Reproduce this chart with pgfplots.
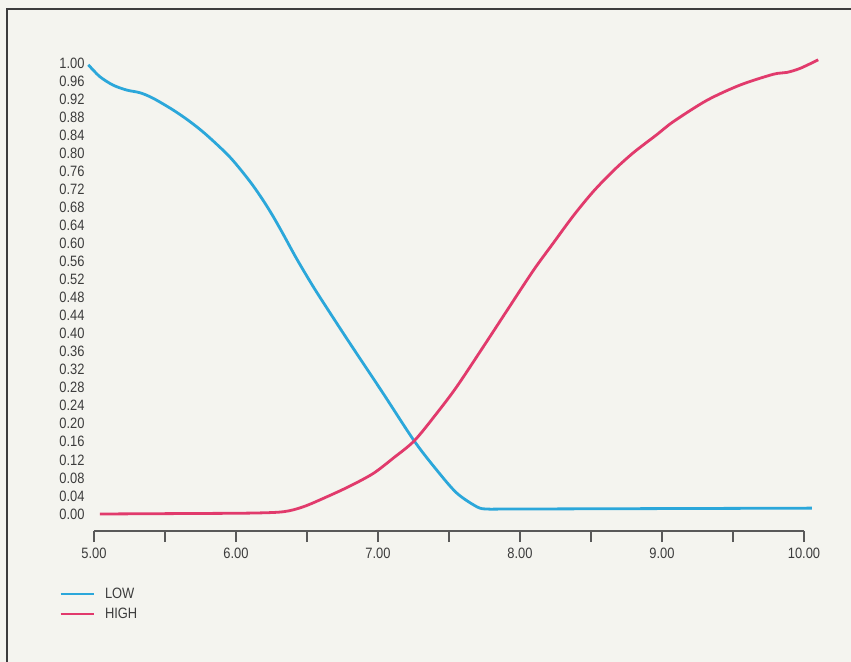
\documentclass[border=0pt]{standalone}
\usepackage{fontspec}
\setmainfont{Liberation Sans}[FakeStretch=0.86]
\usepackage{pgfplots}
\pgfplotsset{compat=1.18}
\definecolor{bg}{HTML}{F4F4EF}
\definecolor{lowc}{HTML}{2BA7DA}
\definecolor{highc}{HTML}{E13A6C}
\definecolor{ink}{HTML}{3C3C3C}
\begin{document}
\begin{tikzpicture}
\fill[bg] (0bp,0bp) rectangle (851bp,662bp);
\useasboundingbox (0bp,0bp) rectangle (851bp,662bp);
\draw[ink,line width=2.4bp] (7bp,-2bp) -- (7bp,653bp) -- (853bp,653bp);
\begin{axis}[
  at={(94bp,131bp)}, anchor=south west,
  x=142bp, y=451bp,
  xmin=5, xmax=10, ymin=-0.0377, ymax=1.03,
  clip=false,
  axis x line*=bottom,
  axis y line*=left,
  y axis line style={draw=none},
  x axis line style={ink!85, line width=1.1bp, -},
  xtick={5,6,7,8,9,10},
  minor xtick={5.5,6.5,7.5,8.5,9.5},
  tick align=outside,
  major tick length=11bp, minor tick length=11bp,
  xtick style={ink!85, line width=1.1bp},
  minor x tick style={ink!85, line width=1.1bp},
  ytick={0,0.04,0.08,0.12,0.16,0.20,0.24,0.28,0.32,0.36,0.40,0.44,0.48,0.52,0.56,0.60,0.64,0.68,0.72,0.76,0.80,0.84,0.88,0.92,0.96,1.00},
  ytick style={draw=none},
  /pgf/number format/assume math mode=true,
  /pgf/number format/fixed,
  /pgf/number format/fixed zerofill,
  /pgf/number format/precision=2,
  ticklabel style={font=\fontsize{15bp}{18bp}\selectfont, text=ink},
  yticklabel style={anchor=east, xshift=5bp},
  xticklabel style={yshift=-3bp},
  legend image code/.code={\draw[#1] (0bp,0bp) -- (33bp,0bp);},
  legend style={draw=none, fill=none, at={(axis description cs:-0.0535,-0.114)}, anchor=north west,
    font=\fontsize{15bp}{18bp}\selectfont, text=ink, row sep=8bp,
    nodes={inner sep=0pt}, column sep=10bp},
  legend cell align=left,
]
\addplot[lowc, line width=2.8bp, smooth] coordinates {
(4.96,0.996) (5.04,0.970) (5.134,0.951) (5.23,0.940) (5.324,0.934) (5.415,0.922)
(5.556,0.896) (5.676,0.870) (5.794,0.840) (5.958,0.791) (6.099,0.737) (6.192,0.695)
(6.263,0.659) (6.333,0.620) (6.427,0.566) (6.544,0.504) (6.662,0.446) (6.803,0.378)
(7.035,0.268) (7.254,0.1625) (7.413,0.0976) (7.554,0.0466) (7.695,0.0162)
(7.765,0.011) (7.93,0.011) (9.0,0.012) (10.056,0.013)
};
\addlegendentry{LOW}
\addplot[highc, line width=2.8bp, smooth] coordinates {
(5.042,0.0) (5.627,0.001) (6.099,0.002) (6.333,0.005) (6.474,0.016) (6.639,0.038)
(6.803,0.062) (6.967,0.090) (7.108,0.124) (7.256,0.1625) (7.413,0.223) (7.554,0.282)
(7.742,0.371) (7.906,0.450) (8.094,0.540) (8.235,0.601) (8.375,0.661) (8.516,0.715)
(8.657,0.761) (8.798,0.801) (8.963,0.841) (9.08,0.870) (9.315,0.917) (9.549,0.951)
(9.784,0.975) (9.878,0.979) (9.972,0.988) (10.10,1.007)
};
\addlegendentry{HIGH}
\end{axis}
\end{tikzpicture}
\end{document}
